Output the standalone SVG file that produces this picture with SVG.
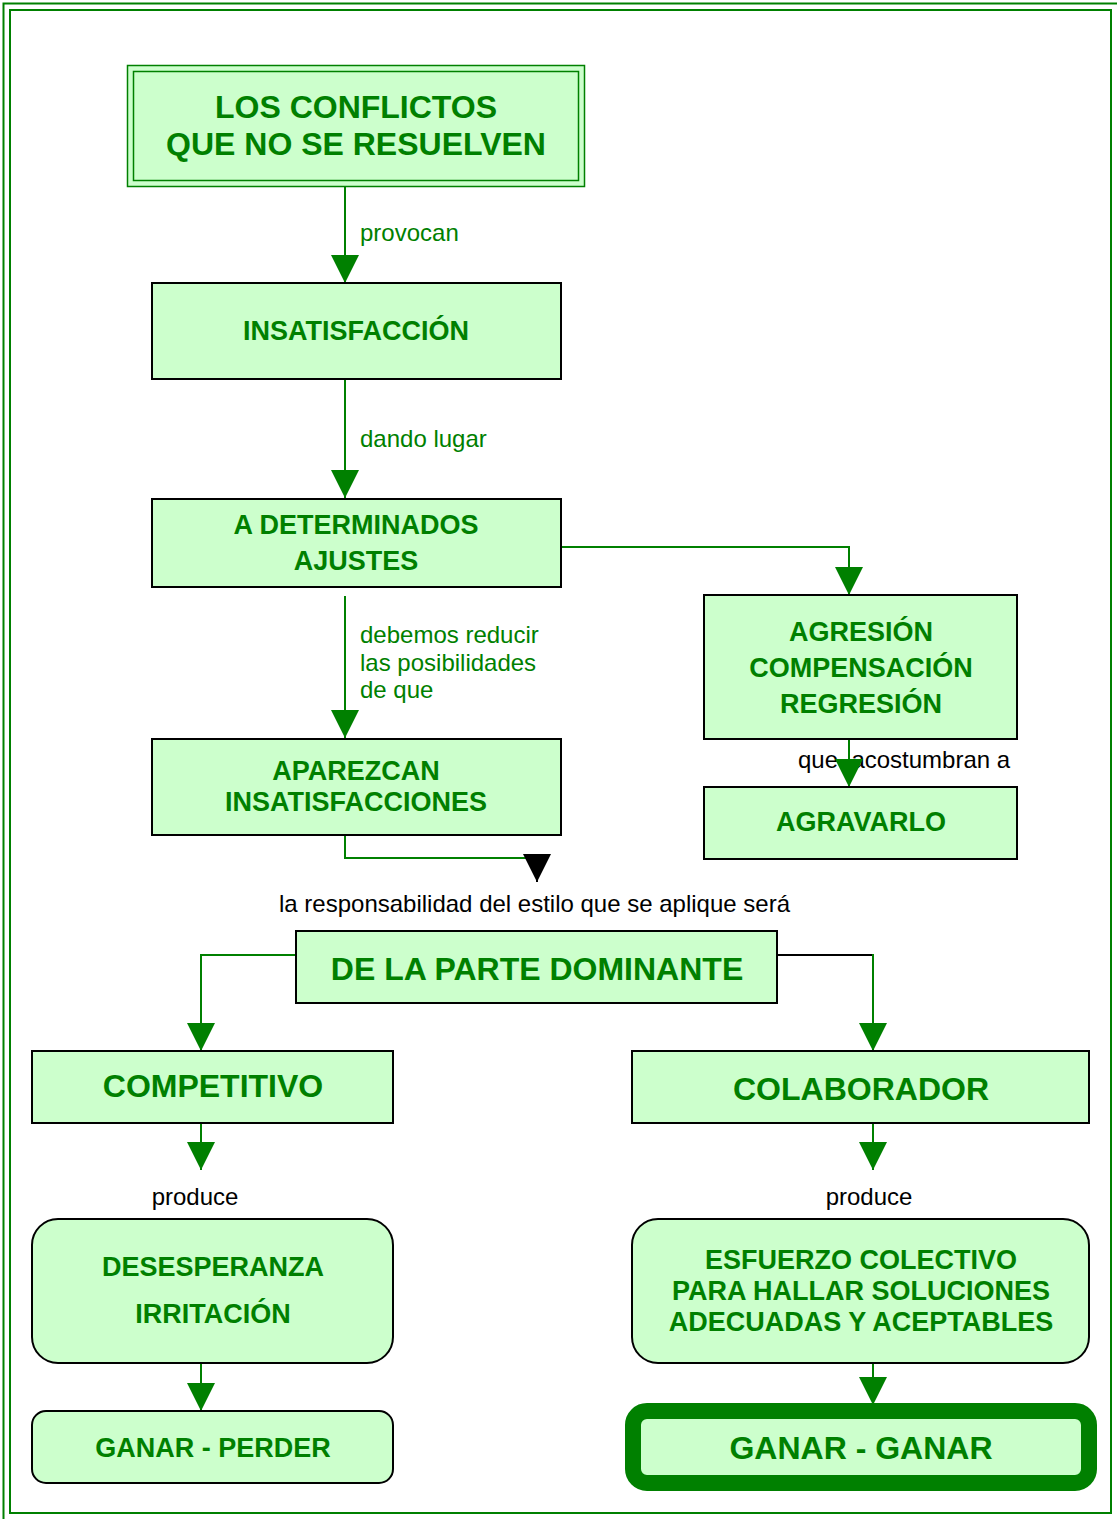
<svg xmlns="http://www.w3.org/2000/svg" width="1117" height="1519" viewBox="0 0 1117 1519">
<style>
.box{fill:#ccffcc;stroke:#000;stroke-width:2}
.t{font-family:"Liberation Sans",Arial,sans-serif;font-weight:bold;fill:#008000;text-anchor:middle}
.l{font-family:"Liberation Sans",Arial,sans-serif;font-size:24px}
.g{fill:#008000}
.k{fill:#000}
.c{fill:none;stroke:#008000;stroke-width:2}
</style>
<defs>
<marker id="ag" markerUnits="userSpaceOnUse" markerWidth="28" markerHeight="28" refX="28" refY="14" orient="auto" viewBox="0 0 28 28"><path d="M0,0 L28,14 L0,28 z" fill="#008000"/></marker>
<marker id="ak" markerUnits="userSpaceOnUse" markerWidth="28" markerHeight="28" refX="28" refY="14" orient="auto" viewBox="0 0 28 28"><path d="M0,0 L28,14 L0,28 z" fill="#000"/></marker>
</defs>
<rect width="1117" height="1519" fill="#fff"/>
<g id="frame" fill="none" stroke="#008000" stroke-width="2">
<rect x="3.5" y="3.5" width="1200" height="1600"/>
<rect x="10" y="10" width="1101" height="1503"/>
</g>
<g id="connectors">
<path class="c" d="M345,187 V283" marker-end="url(#ag)"/>
<path class="c" d="M345,379 V498" marker-end="url(#ag)"/>
<path class="c" d="M561,547 H849 V595" marker-end="url(#ag)"/>
<path class="c" d="M345,596 V738" marker-end="url(#ag)"/>
<text class="l g" x="360" y="241">provocan</text>
<text class="l g" x="360" y="447">dando lugar</text>
<text class="l g" x="360" y="643">debemos reducir</text>
<text class="l g" x="360" y="671">las posibilidades</text>
<text class="l g" x="360" y="698">de que</text>
<text class="l k" x="798" y="768" xml:space="preserve">que  acostumbran a</text>
<path class="c" d="M849,739 V787" marker-end="url(#ag)"/>
<path class="c" d="M345,835 V858 H530"/>
<path d="M537,856 V882" stroke="#000" stroke-width="2" marker-end="url(#ak)"/>
<text class="l k" x="279" y="912">la responsabilidad del estilo que se aplique será</text>
<path class="c" d="M296,955 H201 V1051" marker-end="url(#ag)"/>
<path d="M777,955 H873" fill="none" stroke="#000" stroke-width="2"/>
<path class="c" d="M873,954 V1051" marker-end="url(#ag)"/>
<path class="c" d="M201,1123 V1170" marker-end="url(#ag)"/>
<path class="c" d="M873,1123 V1170" marker-end="url(#ag)"/>
<text class="l k" x="195" y="1205" text-anchor="middle">produce</text>
<text class="l k" x="869" y="1205" text-anchor="middle">produce</text>
<path class="c" d="M201,1363 V1411" marker-end="url(#ag)"/>
<path class="c" d="M873,1363 V1405" marker-end="url(#ag)"/>
</g>
<g id="n1">
<rect x="127.5" y="65.5" width="457" height="121" fill="#ccffcc" stroke="#008000" stroke-width="1.5"/>
<rect x="133.5" y="71.5" width="445" height="109" fill="none" stroke="#008000" stroke-width="1.5"/>
<text class="t" x="356" y="118" font-size="32">LOS CONFLICTOS</text>
<text class="t" x="356" y="155" font-size="32">QUE NO SE RESUELVEN</text>
</g>
<g id="n2">
<rect class="box" x="152" y="283" width="409" height="96"/>
<text class="t" x="356" y="340" font-size="27">INSATISFACCIÓN</text>
</g>
<g id="n3">
<rect class="box" x="152" y="499" width="409" height="88"/>
<text class="t" x="356" y="534" font-size="27">A DETERMINADOS</text>
<text class="t" x="356" y="570" font-size="27">AJUSTES</text>
</g>
<g id="n4">
<rect class="box" x="704" y="595" width="313" height="144"/>
<text class="t" x="861" y="641" font-size="27">AGRESIÓN</text>
<text class="t" x="861" y="677" font-size="27">COMPENSACIÓN</text>
<text class="t" x="861" y="713" font-size="27">REGRESIÓN</text>
</g>
<g id="n5">
<rect class="box" x="704" y="787" width="313" height="72"/>
<text class="t" x="861" y="831" font-size="27">AGRAVARLO</text>
</g>
<g id="n6">
<rect class="box" x="152" y="739" width="409" height="96"/>
<text class="t" x="356" y="780" font-size="27">APAREZCAN</text>
<text class="t" x="356" y="811" font-size="27">INSATISFACCIONES</text>
</g>
<g id="n7">
<rect class="box" x="296" y="931" width="481" height="72"/>
<text class="t" x="537" y="980" font-size="32">DE LA PARTE DOMINANTE</text>
</g>
<g id="n8">
<rect class="box" x="32" y="1051" width="361" height="72"/>
<text class="t" x="213" y="1097" font-size="32">COMPETITIVO</text>
</g>
<g id="n9">
<rect class="box" x="632" y="1051" width="457" height="72"/>
<text class="t" x="861" y="1100" font-size="32">COLABORADOR</text>
</g>
<g id="n10">
<rect class="box" x="32" y="1219" width="361" height="144" rx="26"/>
<text class="t" x="213" y="1276" font-size="27">DESESPERANZA</text>
<text class="t" x="213" y="1323" font-size="27">IRRITACIÓN</text>
</g>
<g id="n11">
<rect class="box" x="632" y="1219" width="457" height="144" rx="26"/>
<text class="t" x="861" y="1269" font-size="27">ESFUERZO COLECTIVO</text>
<text class="t" x="861" y="1300" font-size="27">PARA HALLAR SOLUCIONES</text>
<text class="t" x="861" y="1331" font-size="27">ADECUADAS Y ACEPTABLES</text>
</g>
<g id="n12">
<rect class="box" x="32" y="1411" width="361" height="72" rx="14"/>
<text class="t" x="213" y="1457" font-size="27">GANAR - PERDER</text>
</g>
<g id="n13">
<rect x="633" y="1411" width="456" height="72" rx="14" fill="#ccffcc" stroke="#008000" stroke-width="16"/>
<text class="t" x="861" y="1459" font-size="32">GANAR - GANAR</text>
</g>
</svg>
